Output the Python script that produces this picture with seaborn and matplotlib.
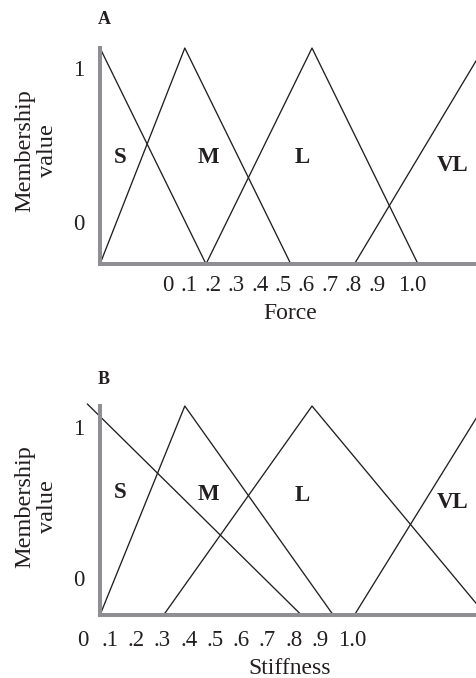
import matplotlib
matplotlib.use("Agg")
import matplotlib.pyplot as plt
import seaborn as sns
import pandas as pd

# Fuzzy sets shared by both universes
set_names = ["S", "M", "L", "VL"]

# Force: breakpoints of each triangular set and their membership grades
force_x = [[0.0, 0.5], [0.0, 0.4, 0.9], [0.5, 1.0, 1.5], [1.2, 1.81]]
force_mu = [[1.0, 0.0], [0.0, 1.0, 0.0], [0.0, 1.0, 0.0], [0.0, 1.0]]

# Stiffness: breakpoints of each triangular set and their membership grades
stiff_x = [[-0.06, 0.95], [0.0, 0.4, 1.1], [0.3, 1.0, 1.82], [1.2, 1.81]]
stiff_mu = [[1.01, 0.0], [0.0, 1.0, 0.0], [0.0, 1.0, 0.0], [0.0, 1.0]]

# Axis annotations
scale_labels = ["0", ".1", ".2", ".3", ".4", ".5", ".6", ".7", ".8", ".9", "1.0"]
grade_labels = ["0", "1"]

sns.set_theme(style="white")
plt.rcParams["font.family"] = ["Liberation Serif", "DejaVu Serif"]

INK = "#231f20"
RULE = "#8f8f93"
X_MAX = 1.774

fig = plt.figure(figsize=(4.76, 6.78), dpi=100)


def membership_frame(xs, mus):
    rows = []
    for name, xv, mv in zip(set_names, xs, mus):
        for x, m in zip(xv, mv):
            rows.append({"x": x, "mu": m, "set": name})
    return pd.DataFrame(rows)


def draw_panel(rect, xs, mus, panel, xlabel, xtick_pos, ytick_pos, xpad,
               name_pos, xlabel_y, ylabel_y, panel_y):
    ax = fig.add_axes(rect)
    df = membership_frame(xs, mus)
    sns.lineplot(data=df, x="x", y="mu", hue="set", hue_order=set_names,
                 palette=[INK] * len(set_names), estimator=None, sort=False,
                 linewidth=0.95, legend=False, ax=ax)
    ax.set_xlim(-0.15, X_MAX)
    ax.set_ylim(0, 1.02)

    for side in ("top", "right"):
        ax.spines[side].set_visible(False)
    ax.spines["left"].set_position(("data", 0))
    ax.spines["left"].set_bounds(0, 1)
    ax.spines["bottom"].set_bounds(0, X_MAX)
    for side in ("left", "bottom"):
        sp = ax.spines[side]
        sp.set_color(RULE)
        sp.set_linewidth(2.9)
        sp.set_capstyle("projecting")

    ax.set_xticks(xtick_pos, scale_labels)
    ax.set_yticks(ytick_pos, grade_labels)
    ax.tick_params(axis="x", length=0, pad=xpad, labelsize=16.5, colors=INK)
    ax.tick_params(axis="y", length=0, pad=11, labelsize=16.5, colors=INK)

    ax.set_xlabel(xlabel, fontsize=17, color=INK, va="center")
    ax.xaxis.set_label_coords(0.544, xlabel_y)
    ax.set_ylabel("Membership\nvalue", fontsize=17.5, color=INK,
                  ha="center", va="center", rotation_mode="default",
                  multialignment="center", linespacing=1.15)
    ax.yaxis.set_label_coords(-0.079, ylabel_y)

    for name, (tx, ty) in zip(set_names, name_pos):
        ax.text(tx, ty, name, fontsize=16.5, fontweight="bold", color=INK,
                ha="center", va="center")
    ax.text(0.088, panel_y, panel, transform=ax.transAxes, fontsize=13,
            fontweight="bold", color=INK, ha="center", va="center")
    return ax


draw_panel(
    [0.1433, 0.6106, 0.8569, 0.3249], force_x, force_mu, "A", "Force",
    [0.321, 0.420, 0.531, 0.642, 0.753, 0.863, 0.974, 1.085, 1.196, 1.307, 1.472],
    [0.194, 0.907], 8,
    [(0.094, 0.495), (0.514, 0.495), (0.953, 0.495), (1.665, 0.454)],
    -0.226, 0.517, 1.108,
)

draw_panel(
    [0.1433, 0.0929, 0.8569, 0.3144], stiff_x, stiff_mu, "B", "Stiffness",
    [-0.080, 0.047, 0.171, 0.295, 0.419, 0.542, 0.666, 0.790, 0.914, 1.038, 1.189],
    [0.177, 0.90], 10.5,
    [(0.094, 0.584), (0.514, 0.579), (0.953, 0.574), (1.665, 0.536)],
    -0.251, 0.507, 1.105,
)

fig.savefig("out.png", dpi=100, facecolor="white")
